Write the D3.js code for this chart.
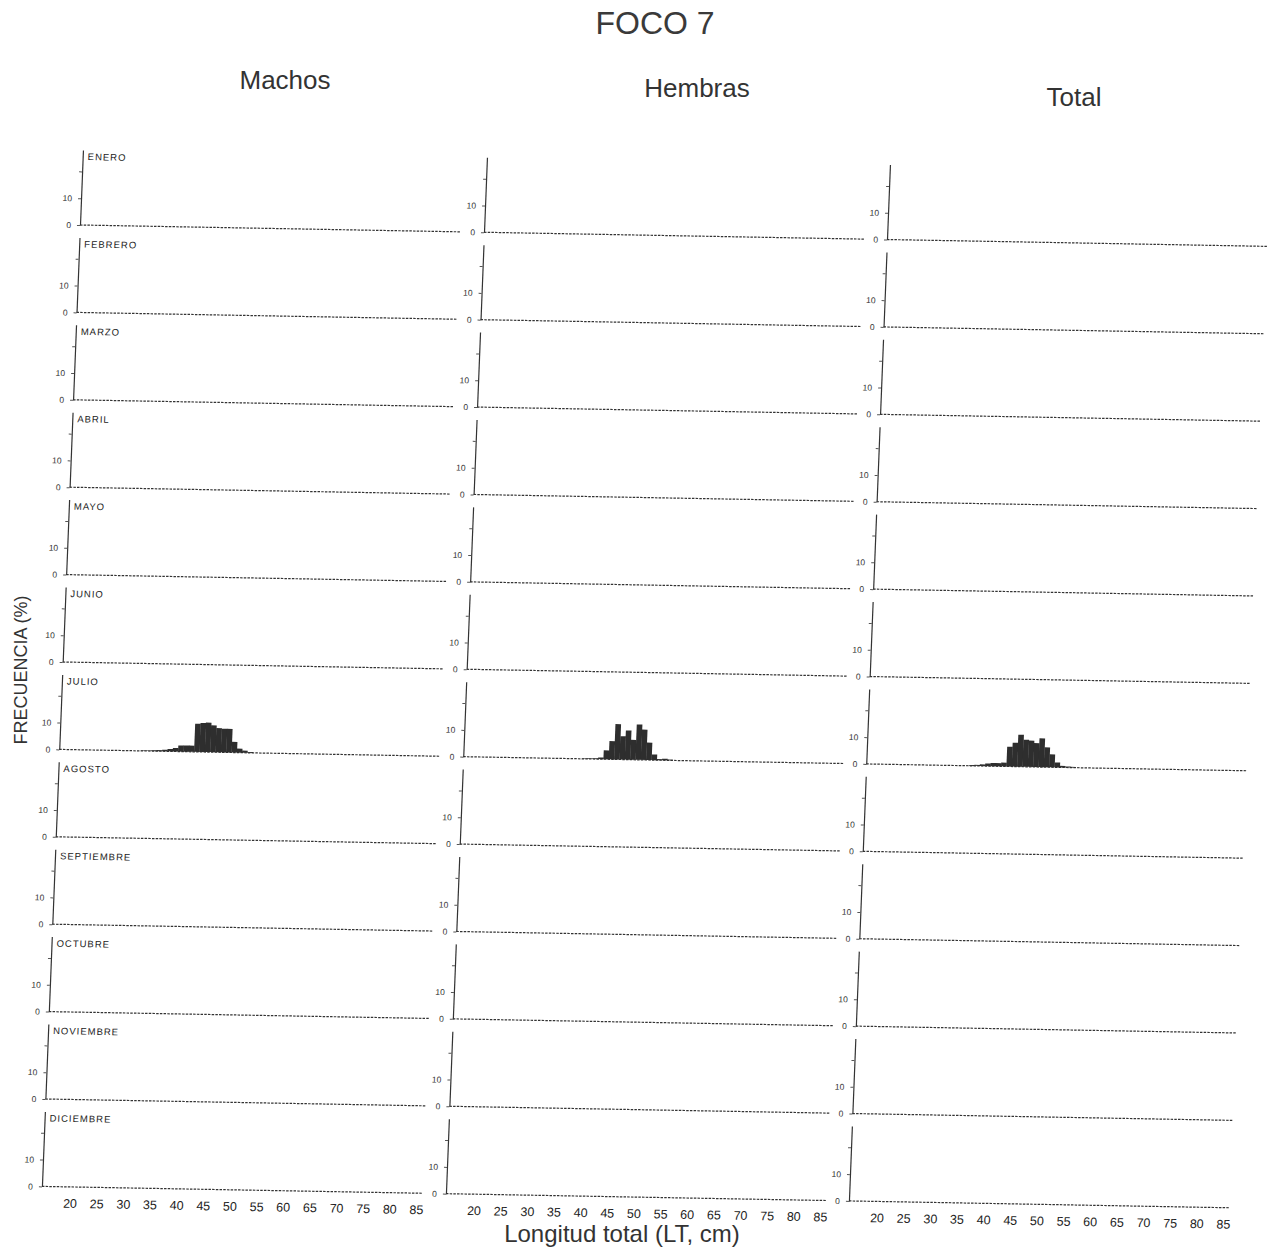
<!DOCTYPE html>
<html><head><meta charset="utf-8">
<script src="https://cdn.jsdelivr.net/npm/d3@7"></script>
<style>body{margin:0;background:#fff} svg{display:block}</style>
</head><body>
<svg id="c" width="1276" height="1251"></svg>
<script>
const months = ["ENERO","FEBRERO","MARZO","ABRIL","MAYO","JUNIO","JULIO","AGOSTO","SEPTIEMBRE","OCTUBRE","NOVIEMBRE","DICIEMBRE"];
const columns = ["Machos","Hembras","Total"];
const xTickValues = [20,25,30,35,40,45,50,55,60,65,70,75,80,85];
const yTickValues = [0,10,20];
const yTickLabels = ["0","10",""];
// 1-cm length classes (LT, cm) with non-zero frequency in JULIO
const julioLengths = [30,31,32,33,34,35,36,37,38,39,40,41,42,43,44,45,46,47,48,49,50,51,52,53];
const machosJulio  = [0.2,0.2,0.3,0.4,0.6,0.9,1.3,2.3,2.3,2.3,10.5,10.8,11,10,9,8.8,8.8,4,1.5,0.8,0.3,0,0,0];
const hembrasJulio = [0,0,0,0,0,0,0,0.2,0.2,0.3,0.6,3.3,6.8,13.2,8.7,10.9,7.4,13.2,11.3,6.5,2.1,0.4,0.6,0.3];
const totalJulio   = [0,0,0,0,0.3,0.4,0.6,1.0,1.2,1.2,1.4,7.4,8.9,11.9,10.1,9.8,8.9,10.7,7.4,4.8,1.8,0.6,0.4,0.3];
const seriesByColumn = {
  Machos: {JULIO: machosJulio},
  Hembras: {JULIO: hembrasJulio},
  Total: {JULIO: totalJulio}
};

const svg = d3.select("#c");
const FONT = "'Liberation Sans', Arial, Helvetica, sans-serif";
const W = 380, H = 75, colStep = [0, 404, 807], rowStep = 87.4;
const x = d3.scaleLinear().domain([14.7, 86]).range([0, W]);
const y = d3.scaleLinear().domain([0, 28]).range([0, -H]);

// scanned page is slightly skewed
const g = svg.append("g").attr("transform", "matrix(1,0.018,-0.0396,1,80,225)");

columns.forEach((col, ci) => {
  months.forEach((m, mi) => {
    const p = g.append("g").attr("transform", `translate(${colStep[ci]},${mi * rowStep})`);
    // dotted baseline
    p.append("line").attr("x1", 0).attr("x2", W).attr("y1", 0).attr("y2", 0)
      .attr("stroke", "#333").attr("stroke-width", 1.2).attr("stroke-dasharray", "2.5,1.2");
    const vals = seriesByColumn[col][m];
    if (vals) {
      p.append("g").selectAll("rect")
        .data(julioLengths.map((l, i) => ({l, v: vals[i]})).filter(d => d.v > 0))
        .join("rect")
        .attr("x", d => x(d.l)).attr("width", d => x(d.l + 1) - x(d.l) + 0.3)
        .attr("y", d => y(d.v)).attr("height", d => -y(d.v))
        .attr("fill", "#2e2e2e");
    }
    const ya = p.append("g").call(
      d3.axisLeft(y).tickValues(yTickValues).tickSize(3).tickSizeOuter(0).tickPadding(6)
        .tickFormat((d, i) => yTickLabels[i]));
    ya.select(".domain").attr("stroke", "#333").attr("stroke-width", 1.2);
    ya.selectAll(".tick line").attr("stroke", "#555");
    ya.selectAll("text").attr("font-family", FONT).attr("font-size", 8.5).attr("fill", "#333");
    if (ci === 0) {
      p.append("text").attr("x", 5).attr("y", -65).text(m)
        .attr("font-family", FONT).attr("font-size", 9.5).attr("letter-spacing", 1).attr("fill", "#222");
    }
    if (mi === months.length - 1) {
      const xa = p.append("g").call(d3.axisBottom(x).tickValues(xTickValues).tickSize(0).tickPadding(12));
      xa.select(".domain").remove();
      xa.selectAll("text").attr("font-family", FONT).attr("font-size", 12.5).attr("fill", "#222");
    }
  });
});

svg.append("text").attr("x", 655).attr("y", 34).attr("text-anchor", "middle")
  .attr("font-family", FONT).attr("font-size", 32).attr("fill", "#3a3a3a").text("FOCO 7");
const heads = [{t: "Machos", x: 285, y: 89}, {t: "Hembras", x: 697, y: 97}, {t: "Total", x: 1074, y: 106}];
svg.selectAll("text.head").data(heads).join("text").attr("class", "head")
  .attr("x", d => d.x).attr("y", d => d.y).attr("text-anchor", "middle")
  .attr("font-family", FONT).attr("font-size", 26).attr("fill", "#333").text(d => d.t);
svg.append("text").attr("transform", "translate(27,670) rotate(-90)").attr("text-anchor", "middle")
  .attr("font-family", FONT).attr("font-size", 18).attr("fill", "#333").text("FRECUENCIA (%)");
svg.append("text").attr("x", 622).attr("y", 1242).attr("text-anchor", "middle")
  .attr("font-family", FONT).attr("font-size", 24).attr("fill", "#333").text("Longitud total (LT, cm)");
</script>
</body></html>
